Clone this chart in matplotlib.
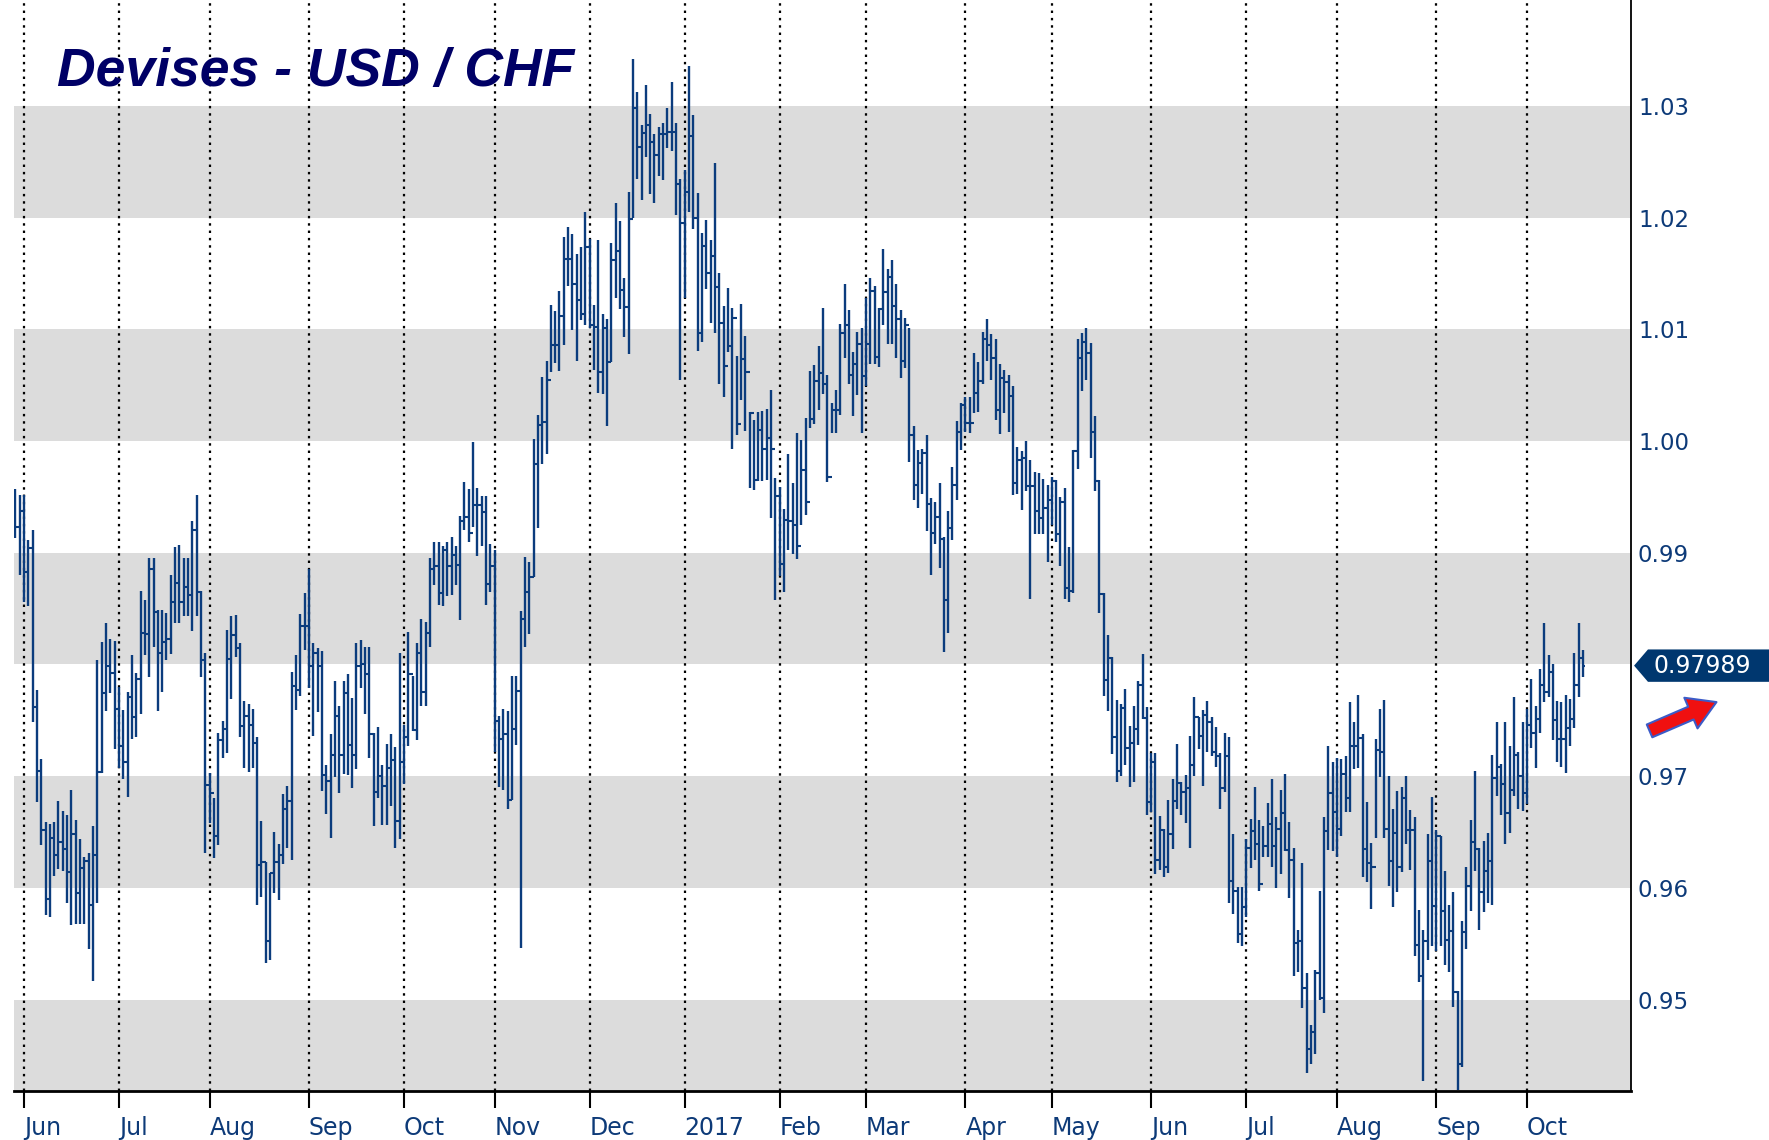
import numpy as np
import pandas as pd
import matplotlib
matplotlib.use("Agg")
from matplotlib import pyplot as plt
from matplotlib import transforms
from matplotlib.patches import Polygon

# daily USD/CHF bars (open = previous close)
high = [
    0.9957, 0.9952, 0.9952, 0.9911, 0.9920, 0.9777, 0.9715, 0.9659, 0.9657, 0.9659,
    0.9678, 0.9669, 0.9665, 0.9688, 0.9661, 0.9644, 0.9628, 0.9631, 0.9655, 0.9804,
    0.9820, 0.9837, 0.9823, 0.9821, 0.9780, 0.9759, 0.9775, 0.9808, 0.9792, 0.9866,
    0.9858, 0.9895, 0.9895, 0.9849, 0.9849, 0.9846, 0.9880, 0.9905, 0.9907, 0.9895,
    0.9895, 0.9928, 0.9952, 0.9866, 0.9810, 0.9703, 0.9680, 0.9739, 0.9749, 0.9831,
    0.9843, 0.9844, 0.9819, 0.9767, 0.9765, 0.9760, 0.9735, 0.9660, 0.9623, 0.9613,
    0.9650, 0.9639, 0.9684, 0.9691, 0.9793, 0.9808, 0.9845, 0.9864, 0.9885, 0.9819,
    0.9815, 0.9812, 0.9710, 0.9738, 0.9785, 0.9763, 0.9785, 0.9791, 0.9770, 0.9819,
    0.9822, 0.9816, 0.9816, 0.9739, 0.9744, 0.9710, 0.9729, 0.9738, 0.9726, 0.9810,
    0.9746, 0.9829, 0.9790, 0.9819, 0.9841, 0.9838, 0.9895, 0.9910, 0.9910, 0.9906,
    0.9910, 0.9914, 0.9906, 0.9933, 0.9963, 0.9957, 0.9999, 0.9958, 0.9951, 0.9951,
    0.9908, 0.9902, 0.9754, 0.9760, 0.9758, 0.9790, 0.9790, 0.9848, 0.9896, 0.9892,
    1.0002, 1.0023, 1.0057, 1.0072, 1.0122, 1.0116, 1.0134, 1.0183, 1.0192, 1.0185,
    1.0167, 1.0174, 1.0205, 1.0181, 1.0122, 1.0180, 1.0114, 1.0109, 1.0177, 1.0213,
    1.0197, 1.0146, 1.0223, 1.0342, 1.0312, 1.0283, 1.0319, 1.0293, 1.0275, 1.0281,
    1.0285, 1.0298, 1.0321, 1.0285, 1.0235, 1.0243, 1.0336, 1.0292, 1.0222, 1.0186,
    1.0198, 1.0180, 1.0249, 1.0150, 1.0121, 1.0137, 1.0119, 1.0076, 1.0123, 1.0094,
    1.0026, 1.0019, 1.0026, 1.0027, 1.0029, 1.0046, 0.9967, 0.9959, 0.9939, 0.9988,
    0.9962, 1.0007, 1.0001, 1.0021, 1.0063, 1.0068, 1.0085, 1.0119, 1.0059, 1.0034,
    1.0046, 1.0105, 1.0141, 1.0117, 1.0080, 1.0098, 1.0101, 1.0128, 1.0146, 1.0139,
    1.0119, 1.0172, 1.0154, 1.0162, 1.0141, 1.0117, 1.0110, 1.0101, 1.0013, 0.9992,
    0.9993, 1.0005, 0.9949, 0.9945, 0.9962, 0.9914, 0.9937, 0.9977, 1.0018, 1.0034,
    1.0039, 1.0039, 1.0079, 1.0071, 1.0098, 1.0109, 1.0096, 1.0091, 1.0069, 1.0064,
    1.0059, 1.0049, 0.9995, 0.9991, 1.0000, 0.9983, 0.9972, 0.9971, 0.9966, 0.9961,
    0.9968, 0.9965, 0.9950, 0.9958, 0.9905, 0.9992, 1.0091, 1.0097, 1.0101, 1.0088,
    1.0022, 0.9965, 0.9864, 0.9826, 0.9807, 0.9768, 0.9765, 0.9778, 0.9745, 0.9763,
    0.9785, 0.9809, 0.9762, 0.9721, 0.9721, 0.9664, 0.9653, 0.9679, 0.9697, 0.9729,
    0.9695, 0.9701, 0.9736, 0.9771, 0.9753, 0.9759, 0.9767, 0.9753, 0.9744, 0.9721,
    0.9739, 0.9735, 0.9648, 0.9601, 0.9601, 0.9644, 0.9662, 0.9690, 0.9661, 0.9655,
    0.9676, 0.9697, 0.9663, 0.9688, 0.9702, 0.9659, 0.9636, 0.9562, 0.9622, 0.9524,
    0.9477, 0.9526, 0.9597, 0.9663, 0.9727, 0.9713, 0.9716, 0.9715, 0.9718, 0.9766,
    0.9748, 0.9773, 0.9738, 0.9677, 0.9640, 0.9733, 0.9760, 0.9768, 0.9700, 0.9671,
    0.9687, 0.9690, 0.9700, 0.9670, 0.9663, 0.9580, 0.9562, 0.9648, 0.9681, 0.9652,
    0.9646, 0.9615, 0.9585, 0.9596, 0.9508, 0.9570, 0.9619, 0.9661, 0.9705, 0.9636,
    0.9642, 0.9649, 0.9719, 0.9748, 0.9711, 0.9748, 0.9727, 0.9771, 0.9722, 0.9748,
    0.9760, 0.9787, 0.9763, 0.9796, 0.9837, 0.9808, 0.9800, 0.9767, 0.9766, 0.9773,
    0.9769, 0.9810, 0.9837, 0.9813,
]
low = [
    0.9913, 0.9880, 0.9856, 0.9852, 0.9748, 0.9677, 0.9638, 0.9576, 0.9574, 0.9611,
    0.9617, 0.9615, 0.9586, 0.9567, 0.9568, 0.9568, 0.9568, 0.9545, 0.9517, 0.9586,
    0.9703, 0.9758, 0.9774, 0.9724, 0.9707, 0.9697, 0.9681, 0.9733, 0.9735, 0.9756,
    0.9808, 0.9789, 0.9816, 0.9758, 0.9775, 0.9804, 0.9809, 0.9837, 0.9837, 0.9843,
    0.9843, 0.9830, 0.9843, 0.9789, 0.9631, 0.9658, 0.9627, 0.9638, 0.9716, 0.9721,
    0.9769, 0.9807, 0.9735, 0.9707, 0.9704, 0.9707, 0.9585, 0.9592, 0.9533, 0.9535,
    0.9595, 0.9589, 0.9621, 0.9636, 0.9625, 0.9759, 0.9772, 0.9813, 0.9779, 0.9736,
    0.9757, 0.9687, 0.9666, 0.9645, 0.9699, 0.9685, 0.9702, 0.9701, 0.9689, 0.9706,
    0.9779, 0.9756, 0.9716, 0.9655, 0.9680, 0.9656, 0.9656, 0.9673, 0.9636, 0.9644,
    0.9693, 0.9727, 0.9740, 0.9732, 0.9763, 0.9763, 0.9816, 0.9871, 0.9853, 0.9852,
    0.9861, 0.9862, 0.9871, 0.9840, 0.9920, 0.9910, 0.9923, 0.9897, 0.9906, 0.9853,
    0.9865, 0.9722, 0.9690, 0.9688, 0.9671, 0.9679, 0.9728, 0.9546, 0.9816, 0.9827,
    0.9878, 0.9922, 0.9979, 0.9988, 1.0062, 1.0070, 1.0063, 1.0086, 1.0139, 1.0099,
    1.0072, 1.0108, 1.0104, 1.0101, 1.0064, 1.0043, 1.0042, 1.0013, 1.0071, 1.0128,
    1.0118, 1.0093, 1.0078, 1.0200, 1.0235, 1.0216, 1.0254, 1.0221, 1.0213, 1.0237,
    1.0234, 1.0262, 1.0260, 1.0202, 1.0055, 1.0128, 1.0205, 1.0190, 1.0081, 1.0089,
    1.0136, 1.0106, 1.0097, 1.0051, 1.0039, 1.0080, 0.9993, 1.0005, 1.0037, 1.0009,
    0.9958, 0.9956, 0.9964, 0.9964, 0.9965, 0.9931, 0.9858, 0.9879, 0.9865, 0.9902,
    0.9899, 0.9894, 0.9925, 0.9934, 1.0012, 1.0015, 1.0028, 1.0042, 0.9963, 1.0007,
    1.0007, 1.0023, 1.0074, 1.0051, 1.0022, 1.0041, 1.0007, 1.0049, 1.0069, 1.0069,
    1.0066, 1.0104, 1.0087, 1.0087, 1.0074, 1.0056, 1.0065, 0.9981, 0.9947, 0.9940,
    0.9953, 0.9919, 0.9880, 0.9908, 0.9886, 0.9811, 0.9828, 0.9911, 0.9947, 0.9992,
    1.0008, 1.0007, 1.0025, 1.0026, 1.0051, 1.0072, 1.0055, 1.0019, 1.0006, 1.0025,
    1.0008, 0.9952, 0.9953, 0.9938, 0.9955, 0.9859, 0.9917, 0.9917, 0.9917, 0.9892,
    0.9925, 0.9910, 0.9888, 0.9859, 0.9856, 0.9864, 0.9975, 1.0045, 1.0055, 0.9985,
    0.9955, 0.9846, 0.9772, 0.9758, 0.9720, 0.9695, 0.9700, 0.9710, 0.9690, 0.9695,
    0.9728, 0.9751, 0.9665, 0.9668, 0.9612, 0.9616, 0.9610, 0.9613, 0.9635, 0.9671,
    0.9665, 0.9658, 0.9636, 0.9700, 0.9724, 0.9691, 0.9722, 0.9718, 0.9708, 0.9671,
    0.9686, 0.9586, 0.9577, 0.9551, 0.9548, 0.9574, 0.9618, 0.9625, 0.9597, 0.9628,
    0.9628, 0.9619, 0.9600, 0.9612, 0.9633, 0.9591, 0.9521, 0.9525, 0.9492, 0.9434,
    0.9442, 0.9451, 0.9500, 0.9488, 0.9634, 0.9633, 0.9628, 0.9646, 0.9668, 0.9668,
    0.9706, 0.9707, 0.9610, 0.9605, 0.9581, 0.9645, 0.9699, 0.9645, 0.9602, 0.9583,
    0.9596, 0.9614, 0.9639, 0.9616, 0.9539, 0.9516, 0.9427, 0.9535, 0.9548, 0.9543,
    0.9548, 0.9531, 0.9525, 0.9493, 0.9419, 0.9440, 0.9545, 0.9579, 0.9615, 0.9562,
    0.9578, 0.9586, 0.9585, 0.9682, 0.9665, 0.9639, 0.9649, 0.9682, 0.9671, 0.9669,
    0.9675, 0.9725, 0.9707, 0.9739, 0.9766, 0.9771, 0.9732, 0.9713, 0.9708, 0.9703,
    0.9727, 0.9743, 0.9771, 0.9789,
]
close = [
    0.9923, 0.9937, 0.9883, 0.9904, 0.9762, 0.9705, 0.9652, 0.9590, 0.9645, 0.9629,
    0.9641, 0.9635, 0.9614, 0.9648, 0.9595, 0.9618, 0.9624, 0.9585, 0.9629, 0.9704,
    0.9774, 0.9799, 0.9792, 0.9760, 0.9727, 0.9713, 0.9771, 0.9753, 0.9787, 0.9828,
    0.9827, 0.9885, 0.9847, 0.9810, 0.9820, 0.9823, 0.9856, 0.9873, 0.9856, 0.9869,
    0.9862, 0.9920, 0.9865, 0.9804, 0.9692, 0.9685, 0.9646, 0.9732, 0.9742, 0.9805,
    0.9826, 0.9815, 0.9745, 0.9754, 0.9746, 0.9730, 0.9620, 0.9623, 0.9552, 0.9613,
    0.9623, 0.9629, 0.9671, 0.9678, 0.9781, 0.9777, 0.9834, 0.9834, 0.9799, 0.9810,
    0.9799, 0.9701, 0.9696, 0.9719, 0.9754, 0.9719, 0.9774, 0.9728, 0.9719, 0.9799,
    0.9800, 0.9791, 0.9738, 0.9686, 0.9700, 0.9691, 0.9707, 0.9714, 0.9660, 0.9713,
    0.9735, 0.9791, 0.9741, 0.9810, 0.9775, 0.9828, 0.9885, 0.9888, 0.9864, 0.9902,
    0.9888, 0.9898, 0.9889, 0.9928, 0.9932, 0.9918, 0.9943, 0.9943, 0.9936, 0.9872,
    0.9888, 0.9749, 0.9733, 0.9738, 0.9679, 0.9742, 0.9776, 0.9841, 0.9865, 0.9878,
    0.9979, 1.0014, 1.0017, 1.0055, 1.0086, 1.0086, 1.0112, 1.0163, 1.0163, 1.0141,
    1.0126, 1.0114, 1.0174, 1.0104, 1.0102, 1.0062, 1.0101, 1.0071, 1.0162, 1.0170,
    1.0135, 1.0120, 1.0199, 1.0298, 1.0263, 1.0276, 1.0283, 1.0268, 1.0256, 1.0275,
    1.0275, 1.0277, 1.0277, 1.0230, 1.0195, 1.0223, 1.0273, 1.0200, 1.0097, 1.0175,
    1.0150, 1.0166, 1.0138, 1.0106, 1.0067, 1.0085, 1.0110, 1.0015, 1.0073, 1.0062,
    1.0025, 0.9965, 1.0010, 0.9993, 1.0003, 0.9993, 0.9951, 0.9890, 0.9929, 0.9928,
    0.9925, 0.9906, 0.9974, 0.9945, 1.0020, 1.0054, 1.0061, 1.0051, 0.9968, 1.0028,
    1.0028, 1.0097, 1.0104, 1.0059, 1.0069, 1.0087, 1.0058, 1.0087, 1.0134, 1.0075,
    1.0118, 1.0133, 1.0147, 1.0121, 1.0109, 1.0072, 1.0104, 1.0005, 0.9961, 0.9980,
    0.9989, 0.9944, 0.9918, 0.9932, 0.9912, 0.9858, 0.9922, 0.9961, 1.0008, 1.0032,
    1.0016, 1.0016, 1.0043, 1.0054, 1.0091, 1.0086, 1.0074, 1.0028, 1.0056, 1.0053,
    1.0040, 0.9962, 0.9983, 0.9985, 0.9960, 0.9960, 0.9937, 0.9931, 0.9940, 0.9947,
    0.9964, 0.9917, 0.9945, 0.9868, 0.9866, 0.9991, 1.0074, 1.0089, 1.0079, 1.0008,
    0.9964, 0.9863, 0.9786, 0.9806, 0.9735, 0.9705, 0.9761, 0.9725, 0.9730, 0.9742,
    0.9782, 0.9752, 0.9677, 0.9713, 0.9625, 0.9652, 0.9619, 0.9648, 0.9678, 0.9694,
    0.9686, 0.9689, 0.9710, 0.9753, 0.9736, 0.9755, 0.9748, 0.9722, 0.9718, 0.9689,
    0.9718, 0.9606, 0.9597, 0.9559, 0.9583, 0.9636, 0.9651, 0.9639, 0.9603, 0.9637,
    0.9657, 0.9637, 0.9653, 0.9667, 0.9634, 0.9625, 0.9551, 0.9552, 0.9510, 0.9456,
    0.9471, 0.9524, 0.9501, 0.9651, 0.9685, 0.9668, 0.9653, 0.9702, 0.9680, 0.9727,
    0.9727, 0.9734, 0.9635, 0.9622, 0.9619, 0.9723, 0.9722, 0.9653, 0.9624, 0.9649,
    0.9619, 0.9680, 0.9652, 0.9652, 0.9549, 0.9521, 0.9552, 0.9624, 0.9584, 0.9646,
    0.9579, 0.9553, 0.9561, 0.9507, 0.9442, 0.9560, 0.9602, 0.9641, 0.9635, 0.9596,
    0.9615, 0.9624, 0.9698, 0.9708, 0.9693, 0.9667, 0.9688, 0.9719, 0.9700, 0.9685,
    0.9746, 0.9739, 0.9751, 0.9782, 0.9775, 0.9793, 0.9750, 0.9733, 0.9733, 0.9743,
    0.9751, 0.9782, 0.9806, 0.97989,
]
first_open = 0.9935
start_date = "2016-05-30"
# 0.98 sits behind the last-price tag, so it has no label
yticks = [0.95, 0.96, 0.97, 0.99, 1.00, 1.01, 1.02, 1.03]
band_lows = [0.94, 0.96, 0.98, 1.00, 1.02]
title = "Devises - USD / CHF"
last_label = "0.97989"

bar_col = "#0b3c7d"
text_col = "#0d3a78"

n = len(close)
dates = pd.bdate_range(start_date, periods=n)
x = np.arange(n)
opens = np.r_[first_open, close[:-1]]

W, H = 1769, 1140
fig = plt.figure(figsize=(W / 100, H / 100), dpi=100)
ax = fig.add_axes([14 / W, 49 / H, 1617 / W, 1091 / H])
ax.set_xlim(-0.3, 374.1)
ax.set_ylim(0.94181, 1.03948)

for lo in band_lows:
    ax.axhspan(lo, lo + 0.01, color="#dcdcdc", lw=0, zorder=0)

# month starts
ms = [i for i in range(1, n) if dates[i].month != dates[i - 1].month]
mlabels = [("2017" if dates[i].month == 1 else dates[i].strftime("%b")) for i in ms]
for i in ms:
    ax.axvline(i, color="black", ls=(0, (1.1, 2.2)), lw=1.6, zorder=1)

# OHLC bars
ax.vlines(x, low, high, color=bar_col, lw=1.7, zorder=3)
ax.hlines(opens, x - 0.5, x, color=bar_col, lw=1.5, zorder=3)
ax.hlines(close, x, x + 0.5, color=bar_col, lw=1.5, zorder=3)

ax.set_xticks(ms)
ax.set_xticklabels(mlabels, ha="left", family=["Liberation Sans Narrow", "DejaVu Sans"])
ax.tick_params(axis="x", length=12, width=1.5, direction="out", pad=6,
               labelsize=17, labelcolor=text_col, color="black")

ax.yaxis.tick_right()
ax.set_yticks(yticks)
ax.set_yticklabels([f"{v:.2f}" for v in yticks])
ax.tick_params(axis="y", length=0, pad=5, labelsize=16.5, labelcolor=text_col)

for s in ["left", "top"]:
    ax.spines[s].set_visible(False)
ax.spines["bottom"].set_linewidth(2)
ax.spines["right"].set_linewidth(1.3)

ax.text(0.0266, 0.921, title, transform=ax.transAxes, fontsize=38.5,
        fontweight="bold", style="italic", color="#000066",
        family="Liberation Sans", zorder=5)

# last price tag
trans = transforms.blended_transform_factory(ax.transAxes, ax.transData)
v = close[-1]
hh = 0.00145
tag = Polygon([(1.0019, v), (1.0105, v + hh), (1.09, v + hh), (1.09, v - hh), (1.0105, v - hh)],
              closed=True, transform=trans, fc="#00376f", ec="none", clip_on=False, zorder=6)
ax.add_patch(tag)
ax.text(1.0142, v, last_label, transform=trans, ha="left", va="center",
        fontsize=17, color="white", zorder=7, clip_on=False)

# trend arrow
ax.annotate("", xy=(1719, H - 701), xytext=(1647, H - 732), xycoords="figure pixels",
            textcoords="figure pixels",
            arrowprops=dict(arrowstyle="simple,head_length=1.0,head_width=1.2,tail_width=0.5",
                            mutation_scale=20, fc="#f01010", ec="#3b5bc8", lw=1.5))

fig.savefig("out.png", dpi=100)
